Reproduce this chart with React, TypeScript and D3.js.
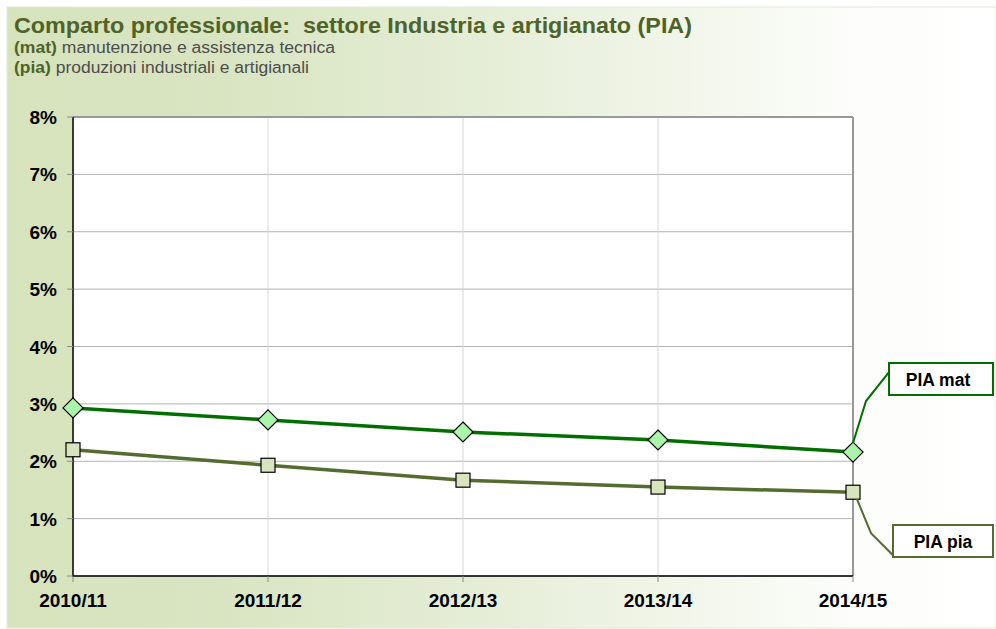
import React from "react";
import * as d3 from "d3";

const categories = ["2010/11", "2011/12", "2012/13", "2013/14", "2014/15"];
const matValues = [2.93, 2.72, 2.51, 2.37, 2.16];
const piaValues = [2.2, 1.93, 1.67, 1.55, 1.46];
const yTicks = [0, 1, 2, 3, 4, 5, 6, 7, 8];

const W = 996;
const H = 629;
const L = 73, R = 853, T = 117, B = 576;

export default function App() {
  const x = d3.scalePoint<string>().domain(categories).range([L, R]);
  const y = d3.scaleLinear().domain([0, 8]).range([B, T]);
  const line = d3
    .line<number>()
    .x((_, i) => x(categories[i]) as number)
    .y((d) => y(d));

  const font = "Arial, 'Liberation Sans', sans-serif";
  const lastX = x(categories[4]) as number;
  const matLast = y(matValues[4]);
  const piaLast = y(piaValues[4]);

  return (
    <svg width={W} height={H} style={{ position: "absolute", left: 0, top: 0 }} fontFamily={font}>
      <defs>
        <linearGradient id="bg" x1="0" x2="1" y1="0" y2="0">
          <stop offset="0" stopColor="#d6e3bc" />
          <stop offset="0.22" stopColor="#d9e5c2" />
          <stop offset="0.5" stopColor="#e6eed8" />
          <stop offset="0.85" stopColor="#fcfdfa" />
          <stop offset="1" stopColor="#ffffff" />
        </linearGradient>
      </defs>
      <rect x={0} y={0} width={W} height={H} fill="#fff" />
      <rect x={7} y={7} width={W - 7} height={H - 8} fill="url(#bg)" stroke="#e4e9dc" strokeWidth={1} />

      <text x={14} y={33} fontSize={22.5} fontWeight="bold" fill="#4f6228" textLength={678} lengthAdjust="spacingAndGlyphs" style={{ whiteSpace: "pre" }}>
        {"Comparto professionale:  settore Industria e artigianato (PIA)"}
      </text>
      <text x={14} y={53} fontSize={16} fill="#4d4d4d" textLength={321} lengthAdjust="spacingAndGlyphs">
        <tspan fontWeight="bold" fill="#4f6228">(mat)</tspan> manutenzione e assistenza tecnica
      </text>
      <text x={14} y={73} fontSize={16} fill="#4d4d4d" textLength={295} lengthAdjust="spacingAndGlyphs">
        <tspan fontWeight="bold" fill="#4f6228">(pia)</tspan> produzioni industriali e artigianali
      </text>

      <rect x={L} y={T} width={R - L} height={B - T} fill="#fff" />
      {yTicks.map((t) => (
        <line key={"g" + t} x1={L} x2={R} y1={y(t)} y2={y(t)} stroke="#b3b3b3" strokeWidth={1} />
      ))}
      {categories.map((c) => (
        <line key={"v" + c} x1={x(c)} x2={x(c)} y1={T} y2={B} stroke="#d6d6d6" strokeWidth={1} />
      ))}
      <line x1={L} x2={R} y1={T} y2={T} stroke="#999" strokeWidth={2} />
      <line x1={R} x2={R} y1={T} y2={B} stroke="#999" strokeWidth={2} />
      <line x1={L} x2={L} y1={T} y2={B + 1} stroke="#000" strokeWidth={1.5} />
      <line x1={L - 1} x2={R} y1={B} y2={B} stroke="#000" strokeWidth={1.5} />
      {yTicks.map((t) => (
        <g key={"yt" + t}>
          <line x1={L - 6} x2={L} y1={y(t)} y2={y(t)} stroke="#888" strokeWidth={1} />
          <text x={L - 16} y={y(t) + 7} fontSize={19} fontWeight="bold" textAnchor="end" fill="#000">
            {t}%
          </text>
        </g>
      ))}
      {categories.map((c) => (
        <g key={"xt" + c}>
          <line x1={x(c)} x2={x(c)} y1={B} y2={B + 6} stroke="#888" strokeWidth={1} />
          <text x={x(c)} y={B + 31} fontSize={19} fontWeight="bold" textAnchor="middle" fill="#000">
            {c}
          </text>
        </g>
      ))}

      <path d={line(piaValues) || ""} fill="none" stroke="#556b2f" strokeWidth={3.5} />
      <path d={line(matValues) || ""} fill="none" stroke="#006f00" strokeWidth={3.5} />

      {piaValues.map((v, i) => {
        const cx = x(categories[i]) as number;
        const cy = y(v);
        return (
          <rect key={"p" + i} x={cx - 7} y={cy - 7} width={14} height={14} fill="#d7e4bd" stroke="#000" strokeWidth={1.2} />
        );
      })}
      {matValues.map((v, i) => {
        const cx = x(categories[i]) as number;
        const cy = y(v);
        const s = 10;
        return (
          <path
            key={"m" + i}
            d={`M${cx},${cy - s}L${cx + s},${cy}L${cx},${cy + s}L${cx - s},${cy}Z`}
            fill="#a9f5a9"
            stroke="#000"
            strokeWidth={1.2}
          />
        );
      })}

      <polyline
        points={`${lastX},${matLast - 9} ${lastX + 13},${matLast - 51} ${lastX + 36},${matLast - 80}`}
        fill="none"
        stroke="#006f00"
        strokeWidth={2}
      />
      <rect x={889} y={363} width={104} height={32} fill="#fff" stroke="#006f00" strokeWidth={2} />
      <text x={938} y={386} fontSize={17.5} fontWeight="bold" textAnchor="middle" fill="#000">
        PIA mat
      </text>

      <polyline
        points={`${lastX + 4},${piaLast + 7} ${lastX + 18},${piaLast + 41} ${lastX + 40},${piaLast + 63}`}
        fill="none"
        stroke="#556b2f"
        strokeWidth={2}
      />
      <rect x={893} y={525} width={100} height={32} fill="#fff" stroke="#556b2f" strokeWidth={2} />
      <text x={943} y={548} fontSize={17.5} fontWeight="bold" textAnchor="middle" fill="#000">
        PIA pia
      </text>
    </svg>
  );
}
